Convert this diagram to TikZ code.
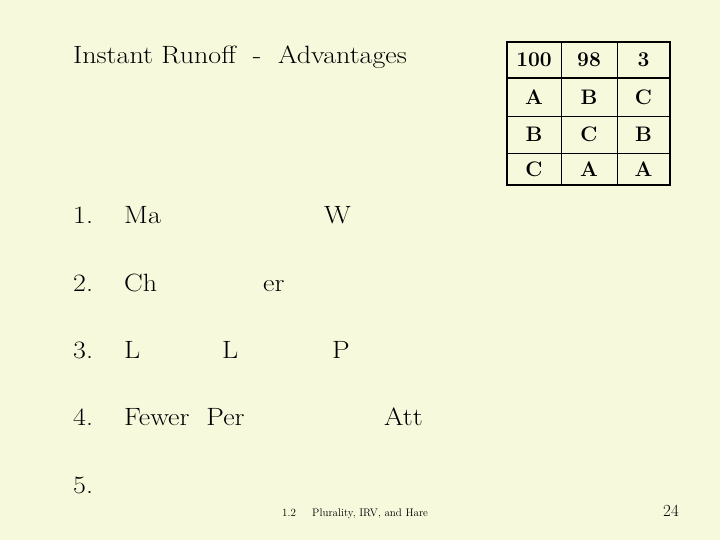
\documentclass[tikz,border=0pt]{standalone}
\definecolor{bg}{RGB}{246,249,220}
\newcommand{\wide}[1]{\scalebox{1.12}[1]{#1}}
\begin{document}
\begin{tikzpicture}[x=1pt,y=-1pt,
  txt/.style={anchor=base west,inner sep=0pt,font=\fontsize{25}{27}\selectfont},
  cell/.style={anchor=center,inner sep=0pt,font=\fontsize{21}{23}\selectfont\bfseries},
  small/.style={anchor=base west,inner sep=0pt,font=\fontsize{11}{13}\selectfont}]
\fill[bg] (0,0) rectangle (720,540);
\useasboundingbox (0,0) rectangle (720,540);
\node[txt] (title) at (73,64) {\wide{Instant Runoff \ - \ Advantages}};
\node[txt] (n1) at (73,223) {\wide{1.}};
\node[txt] (t1a) at (124,223) {\wide{Ma}};
\node[txt] (t1b) at (324,223) {\wide{W}};
\node[txt] (n2) at (73,291) {\wide{2.}};
\node[txt] (t2a) at (124,291) {\wide{Ch}};
\node[txt] (t2b) at (263,291) {\wide{er}};
\node[txt] (n3) at (73,358) {\wide{3.}};
\node[txt] (t3a) at (124,358) {\wide{L}};
\node[txt] (t3b) at (222,358) {\wide{L}};
\node[txt] (t3c) at (332,358) {\wide{P}};
\node[txt] (n4) at (73,425) {\wide{4.}};
\node[txt] (t4a) at (124,425) {\wide{Fewer \ Per}};
\node[txt] (t4b) at (384,425) {\wide{Att}};
\node[txt] (n5) at (73,493) {\wide{5.}};
\node[small] (f1) at (282,516) {1.2};
\node[small] (f2) at (312,516) {Plurality, IRV, and Hare};
\node[txt,font=\fontsize{17}{19}\selectfont] (pg) at (663,516) {24};
% table
\draw[line width=0.8pt] (561,42) -- (561,185) (617,42) -- (617,185)
  (507,116) -- (670,116) (507,153) -- (670,153);
\draw[line width=2pt] (507,78) -- (670,78);
\draw[line width=2pt] (507,42) rectangle (670,185);
\foreach \r/\y/\a/\b/\c in {0/60/100/98/3,1/97/A/B/C,2/134/B/C/B,3/169/C/A/A}{
  \node[cell] (c\r a) at (534,\y) {\a};
  \node[cell] (c\r b) at (589,\y) {\b};
  \node[cell] (c\r c) at (643.5,\y) {\c};
}
\end{tikzpicture}
\end{document}
